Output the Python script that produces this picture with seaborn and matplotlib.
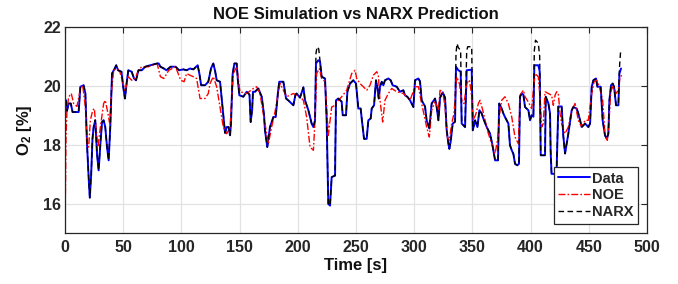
import matplotlib
matplotlib.use("Agg")
import matplotlib.pyplot as plt
import seaborn as sns
import pandas as pd

# ---------------- data ----------------
data_t = [0.0, 0.9, 1.7, 3.1, 5.0, 6.5, 11.7, 13.2, 16.0, 17.5,
          18.9, 20.3, 21.3, 22.5, 23.6, 24.6, 26.0, 27.5, 28.9, 30.4,
          31.8, 33.2, 34.6, 36.1, 37.5, 38.9, 40.4, 42.7, 44.0, 45.6,
          48.5, 50.0, 51.5, 52.9, 54.4, 57.3, 59.3, 61.0, 63.1, 66.0,
          68.9, 73.3, 79.1, 80.5, 82.0, 84.9, 87.2, 90.7, 95.0, 98.0,
          101.7, 104.5, 107.4, 110.3, 114.0, 115.5, 117.0, 120.3, 123.1, 125.5,
          127.4, 129.0, 130.3, 133.2, 135.5, 137.5, 138.9, 140.5, 141.8, 142.6,
          144.0, 145.5, 147.5, 148.5, 149.8, 153.2, 156.1, 158.5, 159.5, 160.8,
          161.5, 163.2, 166.1, 169.0, 171.0, 171.8, 173.8, 176.1, 179.0, 181.0,
          183.0, 184.1, 187.6, 189.9, 192.0, 196.2, 198.0, 199.0, 201.9, 204.8,
          206.2, 209.1, 211.9, 213.4, 214.8, 215.6, 217.6, 219.1, 220.5, 223.4,
          224.8, 226.2, 227.7, 229.1, 232.0, 232.8, 234.8, 237.7, 238.6, 241.4,
          242.6, 244.9, 247.7, 250.0, 252.0, 254.0, 254.9, 256.9, 259.2, 260.6,
          262.6, 263.5, 265.5, 267.2, 268.3, 269.5, 270.6, 272.1, 273.5, 274.9,
          277.8, 279.8, 281.5, 285.0, 287.8, 290.7, 292.1, 294.1, 296.4, 299.3,
          300.7, 303.6, 305.0, 306.4, 309.3, 310.7, 313.0, 315.0, 317.9, 319.3,
          320.8, 322.2, 324.5, 326.5, 327.9, 329.4, 330.2, 331.3, 333.1, 335.1,
          335.9, 337.9, 339.9, 340.8, 343.7, 345.1, 349.4, 350.3, 352.3, 354.3,
          356.0, 358.0, 359.4, 362.3, 365.1, 367.0, 369.5, 372.0, 373.0, 375.2,
          376.6, 378.0, 380.9, 382.3, 383.8, 385.2, 386.6, 388.6, 390.0, 390.9,
          392.3, 393.8, 395.2, 398.1, 399.5, 400.9, 402.4, 403.2, 406.6, 407.8,
          408.7, 412.4, 413.0, 415.3, 416.7, 417.2, 418.0, 421.0, 422.4, 423.8,
          426.7, 428.1, 429.6, 431.0, 432.4, 435.3, 436.7, 439.6, 441.0, 442.5,
          443.9, 446.8, 449.6, 451.1, 452.5, 453.9, 456.2, 457.4, 460.2, 461.9,
          463.9, 465.4, 466.8, 467.7, 469.1, 470.5, 471.7, 473.4, 475.4, 476.3,
          477.7]
data_v = [19.55, 19.5, 19.15, 19.4, 19.4, 19.11, 19.11, 19.97, 20.02, 19.74,
          18.03, 16.9, 16.2, 17.0, 18.2, 18.6, 18.83, 17.69, 17.13, 18.03,
          18.77, 18.83, 18.6, 17.92, 17.47, 18.6, 20.42, 20.59, 20.7, 20.53,
          20.48, 19.97, 19.57, 20.08, 20.53, 20.48, 20.25, 20.19, 20.53, 20.53,
          20.65, 20.7, 20.76, 20.76, 20.65, 20.59, 20.53, 20.65, 20.65, 20.53,
          20.56, 20.53, 20.59, 20.56, 20.7, 20.4, 20.02, 20.02, 20.14, 20.6,
          20.76, 20.5, 20.19, 20.14, 19.2, 18.4, 18.6, 18.6, 18.32, 18.72,
          20.4, 20.76, 20.76, 20.2, 19.68, 19.63, 19.8, 19.7, 18.77, 19.2,
          19.8, 19.8, 19.91, 19.63, 19.0, 18.49, 17.92, 18.6, 18.94, 18.94,
          19.8, 20.14, 20.14, 19.57, 19.5, 19.34, 19.7, 19.74, 19.6, 19.95,
          19.51, 19.17, 18.72, 18.6, 18.83, 20.76, 20.87, 20.82, 20.31, 20.25,
          18.83, 15.99, 15.93, 16.9, 16.95, 19.51, 19.57, 19.46, 19.0, 19.0,
          19.8, 20.08, 20.19, 20.08, 19.23, 19.23, 18.89, 18.2, 18.2, 18.83,
          18.89, 19.23, 19.34, 20.19, 19.97, 19.57, 19.97, 20.14, 20.02, 20.19,
          20.25, 20.19, 20.02, 19.97, 19.8, 19.85, 19.68, 19.63, 19.51, 19.28,
          20.19, 20.25, 20.15, 19.51, 19.3, 18.83, 18.55, 19.4, 19.57, 19.28,
          18.83, 19.6, 19.78, 19.6, 18.49, 18.03, 17.86, 18.1, 18.72, 18.78,
          20.65, 20.53, 20.48, 18.72, 18.6, 20.53, 20.55, 18.49, 18.83, 18.6,
          19.17, 19.06, 18.89, 18.6, 18.38, 18.03, 17.47, 17.47, 19.4, 19.23,
          19.06, 18.94, 18.72, 17.98, 17.81, 17.69, 17.35, 17.3, 17.35, 19.63,
          19.74, 19.7, 19.28, 19.17, 18.83, 19.0, 18.95, 20.7, 20.7, 20.5,
          17.64, 17.64, 19.63, 19.4, 19.06, 17.8, 17.01, 17.01, 17.2, 19.3,
          19.3, 18.3, 17.7, 18.03, 18.37, 19.17, 19.28, 19.23, 19.06, 18.83,
          18.6, 18.72, 18.6, 18.72, 19.97, 20.19, 20.25, 19.97, 19.97, 18.83,
          18.32, 18.2, 18.37, 19.51, 20.02, 20.08, 19.97, 19.34, 19.34, 20.42,
          20.59]

noe_t = [0.0, 0.85, 1.7, 3.1, 5.4, 7.4, 10.3, 13.2, 15.2, 17.5,
         18.9, 20.3, 21.8, 23.8, 25.2, 26.6, 28.3, 30.4, 33.2, 34.6,
         36.9, 38.4, 39.8, 41.8, 44.7, 47.1, 50.0, 51.5, 54.4, 57.3,
         60.2, 63.1, 66.0, 71.8, 79.1, 82.0, 84.9, 89.2, 95.0, 99.4,
         102.3, 104.5, 107.4, 110.3, 113.1, 116.0, 120.3, 123.1, 124.6, 127.4,
         130.3, 133.2, 136.0, 138.9, 141.8, 144.6, 147.5, 150.3, 156.1, 161.8,
         164.6, 167.5, 171.8, 174.7, 177.5, 180.4, 184.7, 190.4, 196.2, 201.9,
         204.8, 207.6, 210.5, 213.4, 214.8, 216.2, 218.5, 220.5, 223.4, 224.8,
         226.2, 229.1, 232.0, 234.8, 237.7, 242.0, 246.3, 249.2, 250.6, 253.4,
         256.3, 259.2, 262.0, 264.9, 267.8, 269.2, 270.6, 272.9, 274.9, 277.8,
         280.7, 285.0, 290.7, 296.4, 300.7, 303.6, 306.4, 310.7, 313.0, 315.0,
         317.9, 320.8, 322.2, 324.5, 326.5, 328.5, 330.2, 332.2, 334.2, 336.5,
         338.8, 340.8, 342.8, 345.1, 347.4, 348.8, 350.8, 353.1, 355.1, 356.6,
         358.9, 360.9, 363.7, 366.6, 369.5, 371.5, 373.8, 375.2, 378.0, 380.9,
         383.8, 386.6, 389.5, 390.9, 393.8, 395.2, 398.1, 400.9, 402.4, 403.8,
         406.6, 408.1, 409.5, 410.9, 412.4, 415.2, 418.1, 419.5, 421.0, 422.4,
         423.8, 425.3, 426.7, 429.6, 432.4, 435.3, 438.2, 441.0, 443.9, 446.8,
         449.6, 452.5, 454.5, 456.8, 459.1, 461.9, 463.9, 465.9, 467.4, 468.8,
         471.1, 473.4, 475.4, 476.8, 478.8]
noe_v = [15.0, 18.26, 19.17, 19.62, 19.74, 19.4, 19.3, 19.91, 20.02, 19.28,
         18.03, 17.92, 18.83, 19.17, 19.23, 18.6, 17.92, 18.6, 19.4, 19.51,
         19.06, 18.72, 19.74, 20.53, 20.59, 20.48, 20.08, 19.8, 20.31, 20.19,
         20.25, 20.53, 20.65, 20.65, 20.76, 20.31, 20.25, 20.53, 20.65, 20.19,
         20.14, 20.42, 20.36, 20.31, 20.25, 19.57, 19.57, 19.74, 20.08, 20.31,
         19.97, 19.28, 18.6, 18.37, 18.6, 20.42, 20.65, 19.8, 19.74, 19.91,
         19.97, 19.74, 18.72, 18.03, 18.6, 19.11, 20.08, 19.63, 19.74, 19.63,
         19.51, 18.94, 17.92, 17.81, 18.83, 20.42, 20.59, 20.25, 20.14, 19.28,
         18.32, 19.28, 19.34, 19.51, 19.63, 19.85, 20.42, 20.53, 20.25, 20.08,
         19.97, 19.85, 20.02, 20.36, 20.48, 20.36, 19.51, 18.77, 19.51, 19.74,
         19.91, 19.8, 19.74, 19.51, 19.97, 19.97, 19.4, 18.6, 18.26, 19.17,
         19.46, 19.17, 19.85, 19.8, 19.28, 18.26, 18.15, 18.72, 19.06, 20.31,
         20.08, 19.51, 19.4, 20.08, 20.2, 19.85, 18.83, 19.06, 19.4, 19.51,
         19.17, 18.83, 18.38, 18.03, 17.7, 18.15, 19.17, 19.51, 19.63, 19.4,
         18.94, 18.26, 18.03, 19.68, 19.85, 19.63, 19.45, 19.23, 19.85, 20.42,
         20.31, 19.63, 18.6, 18.72, 19.8, 19.74, 19.68, 19.34, 19.68, 19.8,
         19.74, 19.06, 18.7, 18.38, 18.6, 19.17, 19.4, 18.83, 18.6, 18.83,
         18.83, 19.74, 20.14, 20.19, 19.97, 19.51, 18.37, 18.15, 18.83, 19.8,
         20.02, 19.74, 19.85, 20.31, 20.36]

narx_t = [0.0, 0.4, 0.9, 1.7, 3.1, 5.0, 6.5, 11.7, 13.2, 16.0, 17.5,
          18.9, 20.3, 21.3, 22.5, 23.6, 24.6, 26.0, 27.5, 28.9, 30.4,
          31.8, 33.2, 34.6, 36.1, 37.5, 38.9, 40.4, 42.7, 44.0, 45.6,
          48.5, 50.0, 51.5, 52.9, 54.4, 57.3, 59.3, 61.0, 63.1, 66.0,
          68.9, 73.3, 79.1, 80.5, 82.0, 84.9, 87.2, 90.7, 95.0, 98.0,
          101.7, 104.5, 107.4, 110.3, 114.0, 115.5, 117.0, 120.3, 123.1, 125.5,
          127.4, 129.0, 130.3, 133.2, 135.5, 137.5, 138.9, 140.5, 141.8, 142.6,
          144.0, 145.5, 147.5, 148.5, 149.8, 153.2, 156.1, 158.5, 159.5, 160.8,
          161.5, 163.2, 166.1, 169.0, 171.0, 171.8, 173.8, 176.1, 179.0, 181.0,
          183.0, 184.1, 187.6, 189.9, 192.0, 196.2, 198.0, 199.0, 201.9, 204.8,
          206.2, 209.1, 211.9, 213.4, 214.8, 215.6, 216.6, 218.0, 219.1, 220.5, 223.4,
          224.8, 226.2, 227.7, 229.1, 232.0, 232.8, 234.8, 237.7, 238.6, 241.4,
          242.6, 244.9, 247.7, 250.0, 252.0, 254.0, 254.9, 256.9, 259.2, 260.6,
          262.6, 263.5, 265.5, 267.2, 268.3, 269.5, 270.6, 272.1, 273.5, 274.9,
          277.8, 279.8, 281.5, 285.0, 287.8, 290.7, 292.1, 294.1, 296.4, 299.3,
          300.7, 303.6, 305.0, 306.4, 309.3, 310.7, 313.0, 315.0, 317.9, 319.3,
          320.8, 322.2, 324.5, 326.5, 327.9, 329.4, 330.2, 331.3, 333.1, 335.1,
          335.9, 336.8, 337.9, 339.9, 340.8, 343.7, 345.1, 346.0, 349.4, 350.3, 352.3, 354.3,
          356.0, 358.0, 359.4, 362.3, 365.1, 367.0, 369.5, 372.0, 373.0, 375.2,
          376.6, 378.0, 380.9, 382.3, 383.8, 385.2, 386.6, 388.6, 390.0, 390.9,
          392.3, 393.8, 395.2, 398.1, 399.5, 400.9, 402.4, 403.2, 404.2, 406.6, 407.8,
          408.7, 412.4, 413.0, 415.3, 416.7, 417.2, 418.0, 421.0, 422.4, 423.8,
          426.7, 428.1, 429.6, 431.0, 432.4, 435.3, 436.7, 439.6, 441.0, 442.5,
          443.9, 446.8, 449.6, 451.1, 452.5, 453.9, 456.2, 457.4, 460.2, 461.9,
          463.9, 465.4, 466.8, 467.7, 469.1, 470.5, 471.7, 473.4, 475.4, 476.3,
          477.4]
narx_v = [15.0, 19.55, 19.5, 19.15, 19.4, 19.4, 19.11, 19.11, 19.97, 20.02, 19.74,
          18.03, 16.9, 16.2, 17.0, 18.2, 18.6, 18.83, 17.69, 17.13, 18.03,
          18.77, 18.83, 18.6, 17.92, 17.47, 18.6, 20.42, 20.59, 20.7, 20.53,
          20.48, 19.97, 19.57, 20.08, 20.53, 20.48, 20.25, 20.19, 20.53, 20.53,
          20.65, 20.7, 20.76, 20.76, 20.65, 20.59, 20.53, 20.65, 20.65, 20.53,
          20.56, 20.53, 20.59, 20.56, 20.7, 20.4, 20.02, 20.02, 20.14, 20.6,
          20.76, 20.5, 20.19, 20.14, 19.2, 18.4, 18.6, 18.6, 18.32, 18.72,
          20.4, 20.76, 20.76, 20.2, 19.68, 19.63, 19.8, 19.7, 18.77, 19.2,
          19.8, 19.8, 19.91, 19.63, 19.0, 18.49, 17.92, 18.6, 18.94, 18.94,
          19.8, 20.14, 20.14, 19.57, 19.5, 19.34, 19.7, 19.74, 19.6, 19.95,
          19.51, 19.17, 18.72, 18.6, 18.83, 21.1, 21.33, 21.25, 20.82, 20.31, 20.25,
          18.83, 15.99, 15.93, 16.9, 16.95, 19.51, 19.57, 19.46, 19.0, 19.0,
          19.8, 20.08, 20.19, 20.08, 19.23, 19.23, 18.89, 18.2, 18.2, 18.83,
          18.89, 19.23, 19.34, 20.19, 19.97, 19.57, 19.97, 20.14, 20.02, 20.19,
          20.25, 20.19, 20.02, 19.97, 19.8, 19.85, 19.68, 19.63, 19.51, 19.28,
          20.19, 20.25, 20.15, 19.51, 19.3, 18.83, 18.55, 19.4, 19.57, 19.28,
          18.83, 19.6, 19.78, 19.6, 18.49, 18.03, 17.86, 18.1, 18.72, 18.78,
          21.1, 21.44, 21.3, 21.2, 18.72, 18.6, 21.2, 21.33, 21.33, 18.49, 18.83, 18.6,
          19.17, 19.06, 18.89, 18.6, 18.38, 18.03, 17.47, 17.47, 19.4, 19.23,
          19.06, 18.94, 18.72, 17.98, 17.81, 17.69, 17.35, 17.3, 17.35, 19.63,
          19.74, 19.7, 19.28, 19.17, 18.83, 19.0, 18.95, 21.2, 21.55, 21.45, 21.0,
          17.64, 17.64, 19.63, 19.4, 19.06, 17.8, 17.01, 17.01, 17.2, 19.3,
          19.3, 18.3, 17.7, 18.03, 18.37, 19.17, 19.28, 19.23, 19.06, 18.83,
          18.6, 18.72, 18.6, 18.72, 19.97, 20.19, 20.25, 19.97, 19.97, 18.83,
          18.32, 18.2, 18.37, 19.51, 20.02, 20.08, 19.97, 19.34, 19.34, 20.6,
          21.22]

x_ticks = [0, 50, 100, 150, 200, 250, 300, 350, 400, 450, 500]
y_ticks = [16, 18, 20, 22]
series_labels = ["Data", "NOE", "NARX"]
title_text = "NOE Simulation vs NARX Prediction"
x_label = "Time [s]"
y_label = "O$_2$ [%]"

assert len(data_t) == len(data_v)
assert len(noe_t) == len(noe_v)
assert len(narx_t) == len(narx_v)

# ---------------- style ----------------
sns.set_style("whitegrid")
plt.rcParams['font.family'] = ['Liberation Sans', 'DejaVu Sans']
plt.rcParams['font.weight'] = 'bold'
plt.rcParams['axes.titleweight'] = 'bold'
plt.rcParams['axes.labelweight'] = 'bold'
plt.rcParams['mathtext.fontset'] = 'custom'
plt.rcParams['mathtext.rm'] = 'Liberation Sans:bold'
plt.rcParams['mathtext.it'] = 'Liberation Sans:bold'
plt.rcParams['mathtext.bf'] = 'Liberation Sans:bold'

fig = plt.figure(figsize=(6.78, 2.84), dpi=100)
ax = fig.add_axes([65 / 678, 1 - 233 / 284, (647 - 65) / 678, (233 - 27) / 284])

df_data = pd.DataFrame({"t": data_t, "v": data_v})
df_noe = pd.DataFrame({"t": noe_t, "v": noe_v})
df_narx = pd.DataFrame({"t": narx_t, "v": narx_v})

sns.lineplot(data=df_data, x="t", y="v", ax=ax, color="#0000ff", linewidth=1.4,
             label=series_labels[0], sort=False, estimator=None,
             solid_joinstyle="round", solid_capstyle="round")
sns.lineplot(data=df_noe, x="t", y="v", ax=ax, color="#ff0000", linewidth=1.0,
             linestyle=(0, (5, 1.5, 1.2, 1.5)), label=series_labels[1],
             sort=False, estimator=None, dash_joinstyle="round")
sns.lineplot(data=df_narx, x="t", y="v", ax=ax, color="#000000", linewidth=1.0,
             linestyle=(0, (4, 2.5)), label=series_labels[2],
             sort=False, estimator=None, dash_joinstyle="round")

ax.set_xlim(0, 500)
ax.set_ylim(15, 22)
ax.set_xticks(x_ticks)
ax.set_yticks(y_ticks)
ax.grid(True, color="#e2e2e2", linewidth=0.9)
ax.set_axisbelow(True)
for s in ax.spines.values():
    s.set_color("#262626")
    s.set_linewidth(0.9)
ax.tick_params(direction="in", top=True, right=True, length=4, width=0.8,
               color="#262626", labelsize=11.5, labelcolor="#262626")
ax.tick_params(axis="x", pad=5)
ax.tick_params(axis="y", pad=3)

ax.set_title(title_text, fontsize=12, fontweight="bold", pad=6, color="#111111")
ax.set_xlabel(x_label, fontsize=12, fontweight="bold", labelpad=2, color="#111111")
ax.set_ylabel(y_label, fontsize=12, fontweight="bold", labelpad=6, color="#111111")

leg = ax.legend(loc="lower right", bbox_to_anchor=(0.985, 0.045), borderaxespad=0,
                fontsize=10.5, frameon=True, fancybox=False, handlelength=2.2,
                handletextpad=0.15, labelspacing=0.2, borderpad=0.3)
leg.get_frame().set_edgecolor("#262626")
leg.get_frame().set_linewidth(0.9)
leg.get_frame().set_alpha(1)
for txt in leg.get_texts():
    txt.set_fontweight("bold")

fig.savefig("out.png", dpi=100)
